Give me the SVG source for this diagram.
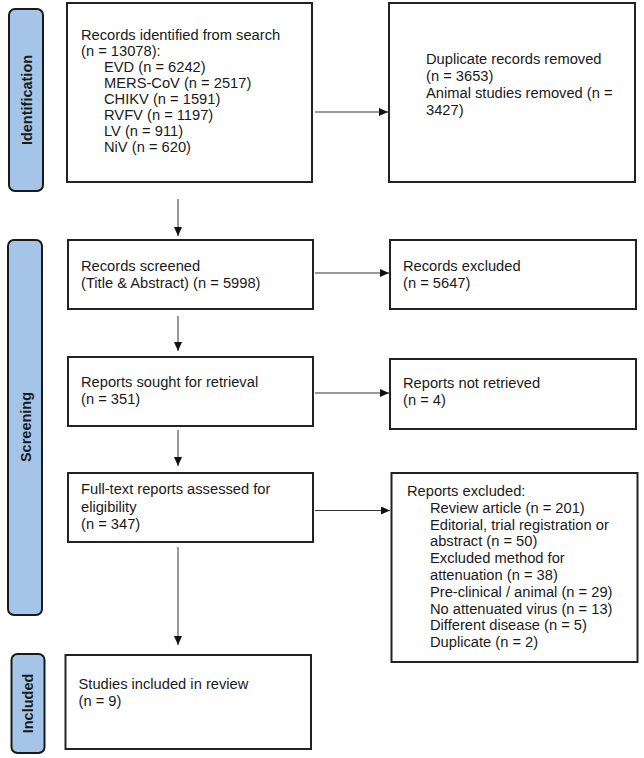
<svg xmlns="http://www.w3.org/2000/svg" width="644" height="758" viewBox="0 0 644 758">
<defs>
<marker id="ah" markerUnits="userSpaceOnUse" markerWidth="9" markerHeight="8" refX="9" refY="4" orient="auto">
<path d="M0,0 L9,4 L0,8 Z" fill="#111"/>
</marker>
<style>
.box{fill:#fff;stroke:#222;stroke-width:2}
.lab{fill:#a4c5e8;stroke:#1a1a1a;stroke-width:2}
.t{font-family:"Liberation Sans",Arial,sans-serif;font-size:14.7px;fill:#1a1a1a}
.lt{font-family:"Liberation Sans",Arial,sans-serif;font-size:14.5px;font-weight:bold;fill:#1a1a1a;text-anchor:middle}
.c{stroke:#333;stroke-width:1;fill:none;marker-end:url(#ah)}
</style>
</defs>
<rect width="644" height="758" fill="#fff"/>

<g id="label-identification">
<rect class="lab" x="9" y="9" width="34" height="182" rx="6"/>
<text class="lt" transform="translate(31.5,100) rotate(-90)">Identification</text>
</g>
<g id="label-screening">
<rect class="lab" x="8" y="240" width="34" height="375" rx="6"/>
<text class="lt" transform="translate(30.5,427) rotate(-90)">Screening</text>
</g>
<g id="label-included">
<rect class="lab" x="11.5" y="654" width="33" height="99" rx="6"/>
<text class="lt" transform="translate(33,703.5) rotate(-90)">Included</text>
</g>

<g id="records-identified">
<rect class="box" x="67" y="3" width="245" height="179"/>
<text class="t" x="81" y="39.5">Records identified from search</text>
<text class="t" x="81" y="55.5">(n = 13078):</text>
<text class="t" x="104" y="71.5">EVD (n = 6242)</text>
<text class="t" x="104" y="87.5">MERS-CoV (n = 2517)</text>
<text class="t" x="104" y="103.5">CHIKV (n = 1591)</text>
<text class="t" x="104" y="119.5">RVFV (n = 1197)</text>
<text class="t" x="104" y="135.5">LV (n = 911)</text>
<text class="t" x="104" y="151.5">NiV (n = 620)</text>
</g>

<g id="duplicates-removed">
<rect class="box" x="389" y="3" width="246" height="179"/>
<text class="t" x="426" y="63.5">Duplicate records removed</text>
<text class="t" x="426" y="80.5">(n = 3653)</text>
<text class="t" x="426" y="97.5">Animal studies removed (n =</text>
<text class="t" x="426" y="114.5">3427)</text>
</g>

<g id="records-screened">
<rect class="box" x="68" y="240" width="245" height="69"/>
<text class="t" x="81" y="270.5">Records screened</text>
<text class="t" x="81" y="287.5">(Title &amp; Abstract) (n = 5998)</text>
</g>

<g id="records-excluded">
<rect class="box" x="390" y="240" width="246" height="69"/>
<text class="t" x="403" y="270.5">Records excluded</text>
<text class="t" x="403" y="287.5">(n = 5647)</text>
</g>

<g id="reports-sought">
<rect class="box" x="68" y="357" width="245" height="69"/>
<text class="t" x="81" y="387">Reports sought for retrieval</text>
<text class="t" x="81" y="404">(n = 351)</text>
</g>

<g id="reports-not-retrieved">
<rect class="box" x="390" y="359" width="246" height="70"/>
<text class="t" x="403" y="388">Reports not retrieved</text>
<text class="t" x="403" y="405">(n = 4)</text>
</g>

<g id="full-text-assessed">
<rect class="box" x="68" y="473" width="245" height="69"/>
<text class="t" x="81" y="494">Full-text reports assessed for</text>
<text class="t" x="81" y="511.5">eligibility</text>
<text class="t" x="81" y="529">(n = 347)</text>
</g>

<g id="reports-excluded">
<rect class="box" x="391.5" y="473" width="246" height="189"/>
<text class="t" x="407" y="496">Reports excluded:</text>
<text class="t" x="430" y="512.8">Review article (n = 201)</text>
<text class="t" x="430" y="529.6">Editorial, trial registration or</text>
<text class="t" x="430" y="546.4">abstract (n = 50)</text>
<text class="t" x="430" y="563.2">Excluded method for</text>
<text class="t" x="430" y="580">attenuation (n = 38)</text>
<text class="t" x="430" y="596.8">Pre-clinical / animal (n = 29)</text>
<text class="t" x="430" y="613.6">No attenuated virus (n = 13)</text>
<text class="t" x="430" y="630.4">Different disease (n = 5)</text>
<text class="t" x="430" y="647.2">Duplicate (n = 2)</text>
</g>

<g id="studies-included">
<rect class="box" x="65.5" y="655" width="245.5" height="94"/>
<text class="t" x="78.5" y="689">Studies included in review</text>
<text class="t" x="78.5" y="706">(n = 9)</text>
</g>

<g id="connectors">
<line class="c" x1="315" y1="112" x2="388" y2="112"/>
<line class="c" x1="178" y1="199" x2="178" y2="236"/>
<line class="c" x1="315" y1="273" x2="389" y2="273"/>
<line class="c" x1="178" y1="316" x2="178" y2="351"/>
<line class="c" x1="315" y1="393" x2="389" y2="393"/>
<line class="c" x1="178" y1="430" x2="178" y2="466"/>
<line class="c" x1="315" y1="510.5" x2="390" y2="510.5"/>
<line class="c" x1="178" y1="547" x2="178" y2="645"/>
</g>
</svg>
